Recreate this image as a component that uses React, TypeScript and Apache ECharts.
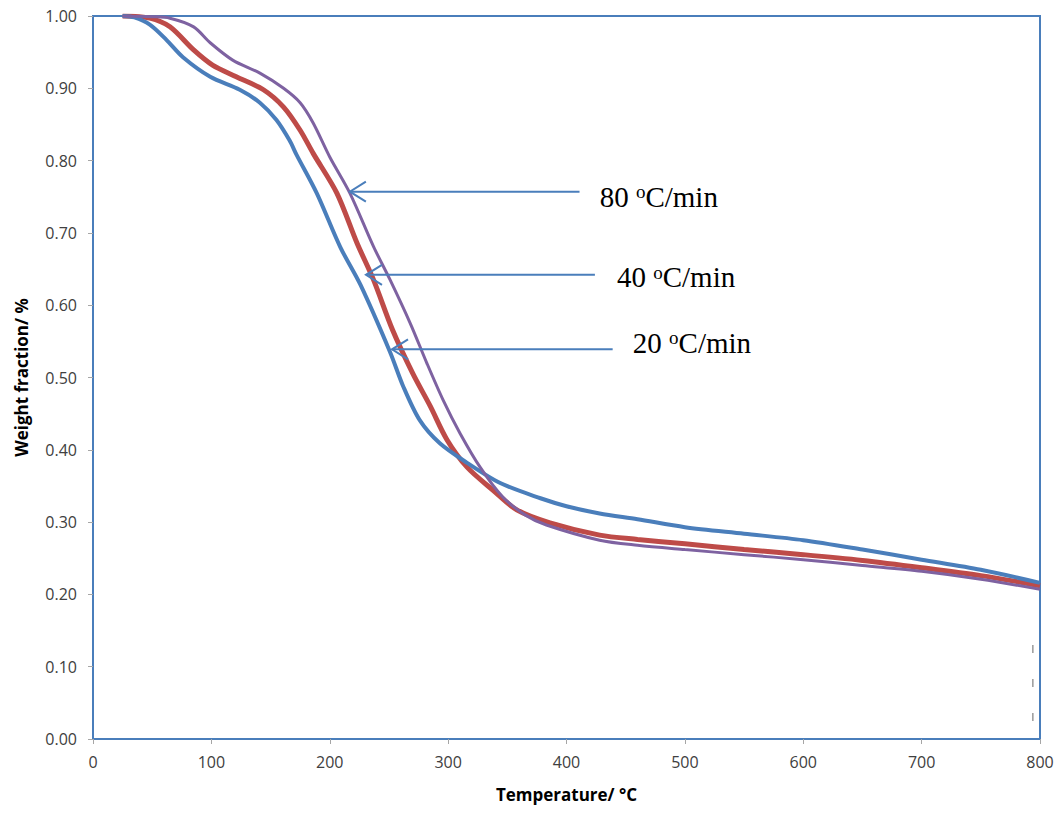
import React, { useEffect, useRef } from "react";
import * as echarts from "echarts";

// Thermogravimetric curves: weight fraction vs temperature at three heating rates
const temp20 = [25, 35, 48, 62, 76, 99, 124, 141, 155, 166, 172, 189, 209, 226, 251, 262, 276, 293, 316, 344, 378, 400, 428, 460, 500, 550, 600, 650, 700, 750, 800];
const weight20 = [1.0, 0.998, 0.988, 0.967, 0.943, 0.916, 0.898, 0.88, 0.856, 0.828, 0.808, 0.755, 0.68, 0.628, 0.535, 0.488, 0.441, 0.409, 0.382, 0.354, 0.333, 0.322, 0.312, 0.304, 0.293, 0.284, 0.275, 0.262, 0.248, 0.234, 0.216];

const temp40 = [25, 48, 65, 85, 101, 121, 144, 161, 175, 186, 206, 223, 237, 253, 270, 285, 299, 316, 338, 358, 386, 428, 460, 500, 550, 600, 650, 700, 750, 800];
const weight40 = [1.0, 0.997, 0.985, 0.953, 0.932, 0.916, 0.898, 0.874, 0.842, 0.81, 0.755, 0.686, 0.635, 0.566, 0.506, 0.46, 0.414, 0.376, 0.344, 0.317, 0.299, 0.282, 0.276, 0.27, 0.262, 0.255, 0.247, 0.237, 0.226, 0.212];

const temp80 = [25, 50, 65, 85, 99, 118, 141, 161, 175, 186, 200, 217, 237, 251, 268, 282, 296, 310, 327, 346, 365, 383, 428, 460, 500, 550, 600, 650, 700, 750, 800];
const weight80 = [1.0, 0.999, 0.997, 0.985, 0.963, 0.939, 0.921, 0.9, 0.88, 0.852, 0.805, 0.755, 0.681, 0.635, 0.575, 0.52, 0.468, 0.423, 0.376, 0.335, 0.31, 0.296, 0.275, 0.268, 0.262, 0.255, 0.248, 0.24, 0.232, 0.221, 0.207];

// Annotation arrows: tip on the curve, tail and label position, all in data units
const rateLabels = ["80", "40", "20"];
const arrowTips: [number, number][] = [[217, 0.757], [230.6, 0.642], [252.6, 0.539]];
const arrowTailTemps = [411, 424, 439];
const labelAnchors: [number, number][] = [[428, 0.75], [442.6, 0.639], [456, 0.548]];

const xTicks = { min: 0, max: 800, step: 100 };
const yTicks = { min: 0, max: 1, step: 0.1 };

const BLUE = "#4A7EBB";
const RED = "#BE4B48";
const PURPLE = "#7E62A1";
const SANS = "'Open Sans', 'Liberation Sans', sans-serif";
const SERIF = "'Liberation Serif', 'Times New Roman', serif";

const pairs = (t: number[], w: number[]) => t.map((v, i) => [v, w[i]]);

export default function App() {
  const ref = useRef<HTMLDivElement>(null);

  useEffect(() => {
    if (!ref.current) return;
    const chart = echarts.init(ref.current, undefined, { renderer: "svg" });

    const lineSeries = (name: string, t: number[], w: number[], color: string, width: number, z: number) => ({
      name,
      type: "line",
      data: pairs(t, w),
      showSymbol: false,
      smooth: 0.3,
      lineStyle: { color, width },
      z,
    });

    chart.setOption({
      animation: false,
      backgroundColor: "#ffffff",
      grid: {
        left: 93,
        right: 22,
        top: 16,
        bottom: 76,
        show: true,
        borderColor: BLUE,
        borderWidth: 2,
        outerBoundsMode: "none",
      },
      xAxis: {
        type: "value",
        min: xTicks.min,
        max: xTicks.max,
        interval: xTicks.step,
        name: "Temperature/ °C",
        nameLocation: "middle",
        nameGap: 47,
        nameTextStyle: { fontFamily: SANS, fontSize: 17, fontWeight: "bold", color: "#000" },
        axisLine: { show: true, lineStyle: { color: BLUE, width: 2 } },
        axisTick: { show: true, length: 5, lineStyle: { color: "#A6A6A6" } },
        axisLabel: { margin: 15, fontFamily: SANS, fontSize: 16, color: "#404040" },
        splitLine: { show: false },
      },
      yAxis: {
        type: "value",
        min: yTicks.min,
        max: yTicks.max,
        interval: yTicks.step,
        name: "Weight fraction/ %",
        nameLocation: "middle",
        nameGap: 63,
        nameTextStyle: { fontFamily: SANS, fontSize: 17, fontWeight: "bold", color: "#000" },
        axisLine: { show: true, lineStyle: { color: BLUE, width: 2 } },
        axisTick: { show: true, length: 5, lineStyle: { color: "#A6A6A6" } },
        axisLabel: {
          margin: 16,
          fontFamily: SANS,
          fontSize: 16,
          color: "#404040",
          formatter: (v: number) => v.toFixed(2),
        },
        splitLine: { show: false },
      },
      series: [
        lineSeries("40 °C/min", temp40, weight40, RED, 5, 2),
        lineSeries("20 °C/min", temp20, weight20, BLUE, 4, 3),
        lineSeries("80 °C/min", temp80, weight80, PURPLE, 3, 4),
      ],
    });

    const px = (p: [number, number]) => chart.convertToPixel({ gridIndex: 0 }, p) as number[];

    const graphics: any[] = [];
    rateLabels.forEach((rate, i) => {
      const tip = px(arrowTips[i]);
      const tail = px([arrowTailTemps[i], arrowTips[i][1]]);
      const lab = px(labelAnchors[i]);
      graphics.push({
        type: "line",
        shape: { x1: tail[0], y1: tip[1], x2: tip[0], y2: tip[1] },
        style: { stroke: BLUE, lineWidth: 2 },
        z: 10,
      });
      graphics.push({
        type: "polyline",
        shape: {
          points: [
            [tip[0] + 16, tip[1] - 10],
            [tip[0], tip[1]],
            [tip[0] + 16, tip[1] + 10],
          ],
        },
        style: { stroke: BLUE, lineWidth: 2, fill: "none" },
        z: 10,
      });
      graphics.push({
        type: "text",
        x: lab[0],
        y: lab[1],
        style: {
          text: `${rate} {s|o}C/min`,
          fontFamily: SERIF,
          fontSize: 29,
          fill: "#000",
          align: "left",
          verticalAlign: "middle",
          rich: {
            s: { fontFamily: SERIF, fontSize: 19, verticalAlign: "top", fill: "#000" },
          },
        },
        z: 10,
      });
    });

    // faint dashed mark near the right edge
    const d1 = px([794, 0.13]);
    const d2 = px([794, 0.023]);
    graphics.push({
      type: "line",
      shape: { x1: d1[0], y1: d1[1], x2: d2[0], y2: d2[1] },
      style: { stroke: "#666", lineWidth: 1, lineDash: [8, 26] },
      z: 10,
    });

    chart.setOption({ graphic: graphics });

    return () => chart.dispose();
  }, []);

  return (
    <div
      ref={ref}
      style={{ position: "absolute", left: 0, top: 0, width: 1062, height: 815 }}
    />
  );
}
